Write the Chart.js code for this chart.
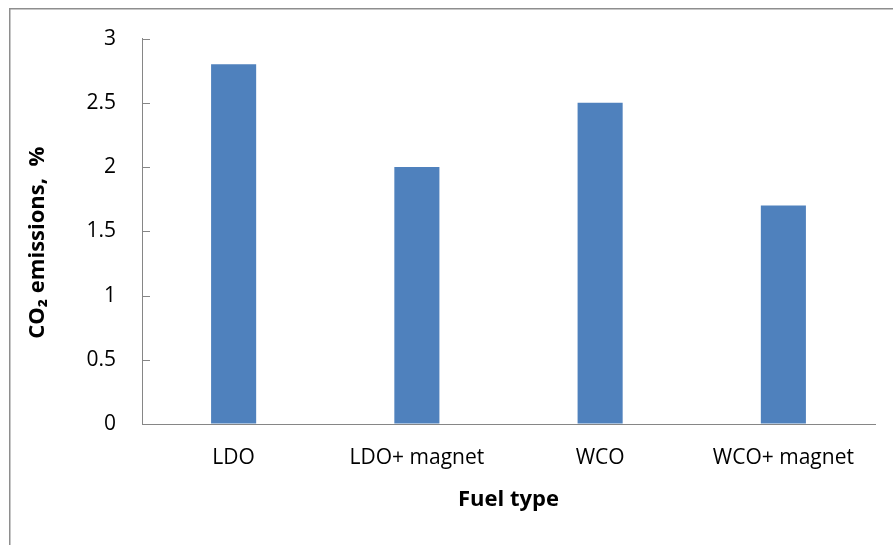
<!DOCTYPE html>
<html>
<head>
<meta charset="utf-8">
<script src="https://cdn.jsdelivr.net/npm/chart.js@4/dist/chart.umd.min.js"></script>
<style>
  html, body { margin: 0; padding: 0; background: #ffffff; }
  #wrap { position: relative; width: 893px; height: 545px; }
</style>
</head>
<body>
<div id="wrap"><canvas id="c" width="893" height="545"></canvas></div>
<script>
// Fuel types on the horizontal axis
const categories = ['LDO', 'LDO+ magnet', 'WCO', 'WCO+ magnet'];
// CO2 emissions (%) for each fuel type
const co2Values = [2.8, 2.0, 2.5, 1.7];
// Labels shown on the vertical axis, from 0 upward in 0.5 steps
const yTickLabels = ['0', '0.5', '1', '1.5', '2', '2.5', '3'];

const axisGray = '#868686';
const tickFont = { family: "'Open Sans', sans-serif", size: 21 };
const titleFont = { family: "'Open Sans', sans-serif", size: 22, weight: 'bold' };

// Frame around the chart, plus short tick marks pointing into the plot
const decorations = {
  id: 'decorations',
  beforeDraw(chart) {
    const ctx = chart.ctx;
    ctx.save();
    ctx.fillStyle = '#ffffff';
    ctx.fillRect(0, 0, chart.width, chart.height);
    ctx.strokeStyle = '#8e8e8e';
    ctx.lineWidth = 1.5;
    ctx.beginPath();
    ctx.moveTo(9.75, chart.height + 5);
    ctx.lineTo(9.75, 8.75);
    ctx.lineTo(chart.width + 5, 8.75);
    ctx.stroke();
    ctx.restore();
  },
  afterDraw(chart) {
    const y = chart.scales.y;
    const ctx = chart.ctx;
    ctx.save();
    ctx.strokeStyle = axisGray;
    ctx.lineWidth = 1;
    ctx.beginPath();
    y.ticks.forEach(t => {
      const py = Math.round(y.getPixelForValue(t.value)) + 0.5;
      ctx.moveTo(y.right, py);
      ctx.lineTo(y.right + 8, py);
    });
    ctx.stroke();
    ctx.restore();
  }
};

new Chart(document.getElementById('c'), {
  type: 'bar',
  data: {
    labels: categories,
    datasets: [{
      data: co2Values,
      backgroundColor: '#4F81BD',
      borderWidth: 0,
      barPercentage: 0.246,
      categoryPercentage: 1.0
    }]
  },
  options: {
    responsive: false,
    animation: false,
    devicePixelRatio: 1,
    layout: { padding: { top: 38, right: 18, left: 0, bottom: 0 } },
    plugins: {
      legend: { display: false },
      tooltip: { enabled: false }
    },
    scales: {
      x: {
        afterFit(scale) { scale.height = 121; },
        grid: { drawOnChartArea: false, drawTicks: false },
        border: { display: true, color: axisGray, width: 1 },
        ticks: { color: '#000000', font: tickFont, padding: 21, maxRotation: 0 },
        title: {
          display: true,
          text: 'Fuel type',
          color: '#000000',
          font: titleFont,
          padding: { top: 0, bottom: 32 }
        }
      },
      y: {
        min: 0,
        max: 3,
        afterFit(scale) { scale.width = 142; },
        afterBuildTicks(scale) {
          scale.ticks = yTickLabels.map(v => ({ value: parseFloat(v) }));
        },
        grid: { drawOnChartArea: false, drawTicks: false },
        border: { display: true, color: axisGray, width: 1 },
        ticks: {
          color: '#000000',
          font: tickFont,
          padding: 26,
          callback: (value, index) => yTickLabels[index]
        },
        title: {
          display: true,
          text: 'CO₂ emissions,  %    ',
          color: '#000000',
          font: titleFont,
          padding: { top: 25, bottom: 0 }
        }
      }
    }
  },
  plugins: [decorations]
});
</script>
</body>
</html>
